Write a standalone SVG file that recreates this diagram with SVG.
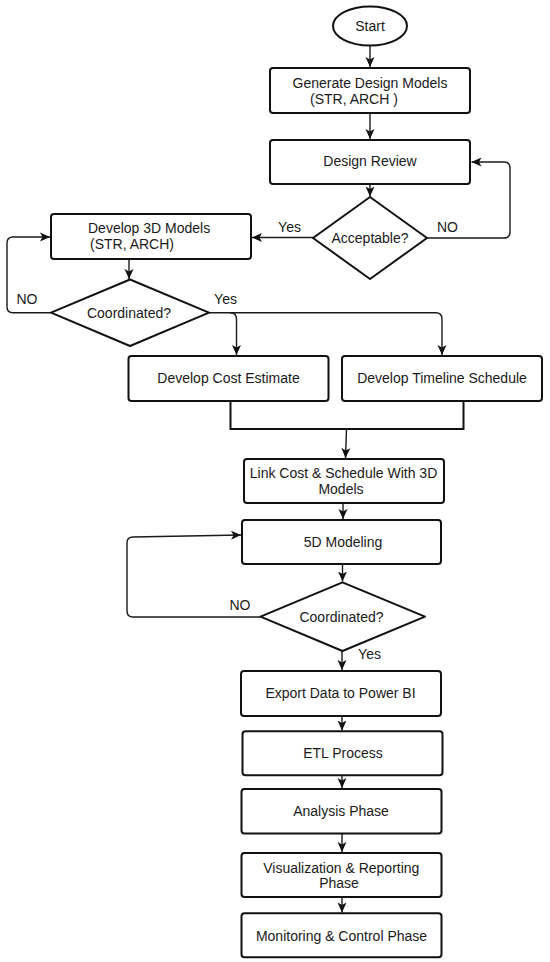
<svg xmlns="http://www.w3.org/2000/svg" width="550" height="962" viewBox="0 0 550 962">
<style>
.n{fill:#fff;stroke:#111;stroke-width:2;stroke-linejoin:round}
.t{font-family:"Liberation Sans",Arial,sans-serif;font-size:14px;fill:#1a1a1a;text-anchor:middle}
.ts{font-family:"Liberation Sans",Arial,sans-serif;font-size:14px;fill:#1a1a1a;text-anchor:start}
.c{fill:none;stroke:#1a1a1a;stroke-width:1.4}
.b{fill:none;stroke:#111;stroke-width:2}
.a{marker-end:url(#ah)}
</style>
<defs>
<marker id="ah" markerUnits="userSpaceOnUse" markerWidth="10" markerHeight="10" refX="10" refY="5" orient="auto">
<path d="M0,0.5 L10,5 L0,9.5 L2.5,5 Z" fill="#111"/>
</marker>
</defs>
<rect width="550" height="962" fill="#fff"/>
<g id="connectors">
<line class="c a" x1="370" y1="45.5" x2="370" y2="67"/>
<line class="c a" x1="370" y1="113" x2="370" y2="139"/>
<line class="c a" x1="370" y1="184" x2="370" y2="196.5"/>
<line class="c a" x1="313" y1="237.5" x2="252" y2="237.5"/>
<path class="c a" d="M427,238 H504 Q510,238 510,232 V168 Q510,162 504,162 H471.5"/>
<line class="c a" x1="129" y1="259" x2="129" y2="279"/>
<path class="c a" d="M51,312.7 H13 Q7,312.7 7,306.7 V243 Q7,237 13,237 H50"/>
<path class="c a" d="M209,312.7 H230 Q236.5,312.7 236.5,319 V355"/>
<path class="c a" d="M230,312.7 H436 Q442,312.7 442,319 V355"/>
<polyline class="b" points="230.5,401 230.5,429 463.5,429 463.5,401"/>
<line class="c a" x1="346.5" y1="429" x2="345.5" y2="458"/>
<line class="c a" x1="343" y1="503" x2="343" y2="519"/>
<line class="c a" x1="342.5" y1="564" x2="342.5" y2="581.5"/>
<path class="c a" d="M260.5,617 H133 Q127,617 127,611 V543 Q127,537 133,537 L241,535"/>
<line class="c a" x1="342" y1="651" x2="342" y2="670"/>
<line class="c a" x1="342" y1="716" x2="342" y2="730.5"/>
<line class="c a" x1="342" y1="775" x2="342" y2="788"/>
<line class="c a" x1="342" y1="833.5" x2="342" y2="852"/>
<line class="c a" x1="342" y1="897" x2="342" y2="912.5"/>
</g>
<g id="start">
<ellipse class="n" cx="370" cy="26" rx="37" ry="19.5"/>
<text class="t" x="370" y="31">Start</text>
</g>
<g id="generate">
<rect class="n" x="270" y="68" width="200" height="45" rx="3"/>
<text class="t" x="370" y="88">Generate Design Models</text>
<text class="ts" x="310" y="104">(STR, ARCH )</text>
</g>
<g id="review">
<rect class="n" x="270" y="140" width="200" height="44" rx="3"/>
<text class="t" x="370" y="166">Design Review</text>
</g>
<g id="acceptable">
<polygon class="n" points="370,197 427,238 370,279 313,238"/>
<text class="t" x="370" y="243">Acceptable?</text>
<text class="t" x="289.5" y="232">Yes</text>
<text class="t" x="447.5" y="232">NO</text>
</g>
<g id="develop3d">
<rect class="n" x="51" y="214" width="200" height="45" rx="3"/>
<text class="ts" x="88" y="233">Develop 3D Models</text>
<text class="ts" x="90" y="249">(STR, ARCH)</text>
</g>
<g id="coordinated1">
<polygon class="n" points="130,279.5 209,312.7 130,346 51,312.7"/>
<text class="t" x="129" y="317.5">Coordinated?</text>
<text class="t" x="27" y="304">NO</text>
<text class="t" x="225.5" y="304">Yes</text>
</g>
<g id="cost">
<rect class="n" x="128.5" y="356" width="200" height="45" rx="3"/>
<text class="t" x="228.5" y="383">Develop Cost Estimate</text>
</g>
<g id="timeline">
<rect class="n" x="342" y="356" width="200" height="45" rx="3"/>
<text class="t" x="442" y="383">Develop Timeline Schedule</text>
</g>
<g id="link">
<rect class="n" x="244" y="459" width="200" height="44" rx="3"/>
<text class="t" x="343.5" y="478">Link Cost &amp; Schedule With 3D</text>
<text class="t" x="341" y="494">Models</text>
</g>
<g id="modeling5d">
<rect class="n" x="242" y="520" width="199" height="44" rx="3"/>
<text class="t" x="343" y="547">5D Modeling</text>
</g>
<g id="coordinated2">
<polygon class="n" points="342.5,582.3 425,616.7 342.5,651 260.5,616.7"/>
<text class="t" x="341.5" y="621.5">Coordinated?</text>
<text class="t" x="240" y="610">NO</text>
<text class="t" x="369.5" y="659">Yes</text>
</g>
<g id="export">
<rect class="n" x="241" y="671" width="200" height="45" rx="3"/>
<text class="t" x="340.5" y="698">Export Data to Power BI</text>
</g>
<g id="etl">
<rect class="n" x="242.5" y="731.3" width="200" height="44" rx="3"/>
<text class="t" x="343" y="757.5">ETL Process</text>
</g>
<g id="analysis">
<rect class="n" x="241.5" y="789" width="200" height="44.5" rx="3"/>
<text class="t" x="341" y="816">Analysis Phase</text>
</g>
<g id="visualization">
<rect class="n" x="241.5" y="853" width="200" height="44" rx="3"/>
<text class="t" x="341.3" y="872.5">Visualization &amp; Reporting</text>
<text class="t" x="339" y="888">Phase</text>
</g>
<g id="monitoring">
<rect class="n" x="241.5" y="913.3" width="200" height="44" rx="3"/>
<text class="t" x="341.5" y="941">Monitoring &amp; Control Phase</text>
</g>
</svg>
